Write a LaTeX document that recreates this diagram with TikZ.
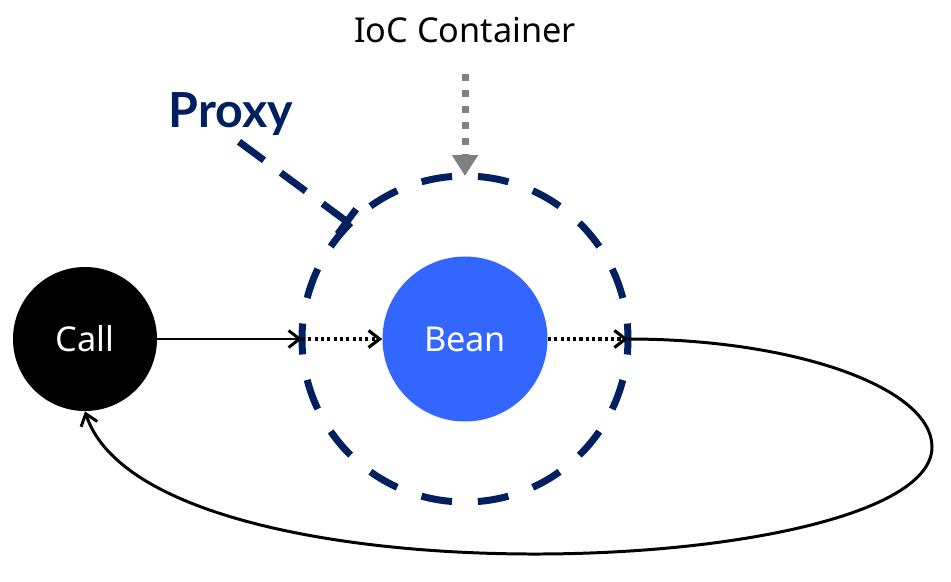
\documentclass[tikz,border=0pt]{standalone}
\usepackage{fontspec}
\setmainfont{Noto Sans}
\newfontfamily\proxyfont{Lato}
\usetikzlibrary{arrows.meta}
\definecolor{mynavy}{RGB}{0,32,96}
\definecolor{myblue}{RGB}{51,102,255}
\definecolor{mygray}{RGB}{128,128,128}
\tikzset{
  callnode/.style={circle, fill=black, text=white, minimum size=2.88cm,
    inner sep=0pt, font=\fontsize{19.5}{23}\selectfont},
  beannode/.style={circle, fill=myblue, text=white, minimum size=3.30cm,
    inner sep=0pt, font=\fontsize{19.5}{23}\selectfont},
  proxyring/.style={circle, draw=mynavy, line width=0.14cm,
    minimum size=6.52cm, inner sep=0pt, outer sep=0pt,
    dash pattern=on 0.62cm off 0.518cm, dash phase=0.31cm},
  callarrow/.style={-{Straight Barb[length=0.22cm, width=0.34cm]},
    line width=1.7pt, color=black},
  dotarrow/.style={-{Straight Barb[length=0.22cm, width=0.34cm]},
    line width=1.8pt, dash pattern=on 1.8pt off 1.8pt, color=black},
  inject/.style={-{Triangle[length=0.42cm, width=0.5cm]}, color=mygray,
    line width=0.14cm, dash pattern=on 0.14cm off 0.18cm, shorten <=0.5cm},
  proxyline/.style={-{Bar[width=0.62cm]}, color=mynavy, line width=0.14cm,
    dash pattern=on 0.62cm off 0.42cm, shorten <=0.2cm}
}
\begin{document}
\begin{tikzpicture}
  \useasboundingbox (0,0) rectangle (19.02,11.62);

  \node[callnode] (call) at (1.70,4.84) {Call};
  \node[beannode] (bean) at (9.30,4.84) {Bean};
  \node[proxyring] (proxy) at (9.30,4.84) {};
  \node[font=\fontsize{19.5}{23}\selectfont] (ioc) at (9.30,11.02) {IoC Container};
  \node[font=\proxyfont\bfseries\fontsize{27.5}{32}\selectfont, text=mynavy,
    inner sep=0pt] (plabel) at (4.62,9.34) {Proxy};

  \draw[inject] (ioc) -- (proxy.north);
  \draw[proxyline] (plabel.south) -- (proxy.135);
  \draw[callarrow] (call) -- (proxy.west);
  \draw[dotarrow] (proxy.west) -- (bean);
  \draw[dotarrow] (bean) -- (proxy.east);

  % loop back to the caller
  \coordinate (loop) at (18.64,2.68);
  \draw[callarrow] (proxy.east) .. controls (15.92,4.84) and (18.64,3.86) .. (loop)
    .. controls (18.64,0.02) and (3.0,-0.58) .. (call.south);
\end{tikzpicture}
\end{document}
